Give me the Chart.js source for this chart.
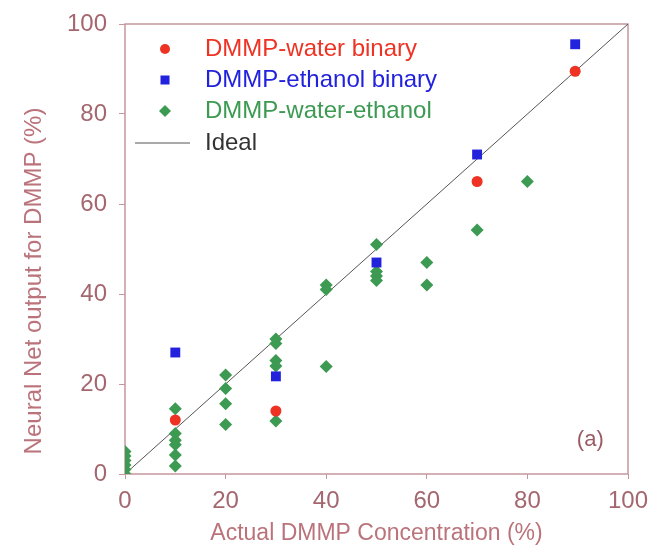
<!DOCTYPE html>
<html>
<head>
<meta charset="utf-8">
<script src="https://cdn.jsdelivr.net/npm/chart.js@4"></script>
<style>
  html, body { margin: 0; padding: 0; background: #fff; }
  #wrap { width: 651px; height: 547px; }
</style>
</head>
<body>
<div id="wrap"><canvas id="chart" width="651" height="547"></canvas></div>
<script>
// values
const waterX = [10, 30, 70, 89.5];
const waterY = [12, 14, 65, 89.5];

const ethanolX = [10, 30, 50, 70, 89.5];
const ethanolY = [27, 21.7, 47, 71, 95.5];

const mixX = [0, 0, 0, 0, 0, 0,
  10, 10, 10, 10, 10, 10,
  20, 20, 20, 20,
  30, 30, 30, 30, 30,
  40, 40, 40,
  50, 50, 50, 50,
  60, 60,
  70, 80];
const mixY = [0, 1, 2, 3, 4, 5,
  14.5, 9, 7.5, 6.5, 4.2, 1.8,
  22, 19, 15.6, 11,
  30, 29, 25.2, 24, 11.8,
  42, 41, 23.9,
  51, 45, 44, 43,
  47, 42,
  54.2, 65];

const idealX = [0, 100];
const idealY = [0, 100];

const xTicks = [0, 20, 40, 60, 80, 100];
const yTicks = [0, 20, 40, 60, 80, 100];

const legendNames = ["DMMP-water binary", "DMMP-ethanol binary", "DMMP-water-ethanol", "Ideal"];

const RED = "#ee3324";
const BLUE = "#2222dd";
const GREEN = "#3d9a52";
const FRAME = "#c4979d";
const TICKTXT = "#a4676f";
const TITLETXT = "#bb737b";
const FONT = "'Liberation Sans', Arial, sans-serif";

const toPoints = (xs, ys) => xs.map((x, i) => ({ x: x, y: ys[i] }));

// frame, y title, legend and "(a)"
const extras = {
  id: "extras",
  beforeDatasetsDraw(chart) {
    const { ctx, chartArea: a } = chart;
    ctx.save();
    ctx.strokeStyle = FRAME;
    ctx.lineWidth = 1.5;
    ctx.strokeRect(a.left, a.top, a.right - a.left, a.bottom - a.top);
    ctx.restore();
  },
  afterDraw(chart) {
    const { ctx } = chart;
    ctx.save();
    // y title
    ctx.translate(34, 281);
    ctx.rotate(-Math.PI / 2);
    ctx.fillStyle = TITLETXT;
    ctx.font = "24px " + FONT;
    ctx.textAlign = "center";
    ctx.textBaseline = "middle";
    ctx.fillText("Neural Net output for DMMP (%)", 0, 0);
    ctx.restore();

    // legend
    ctx.save();
    ctx.font = "24px " + FONT;
    ctx.textBaseline = "middle";
    const rows = [49, 80, 111, 143];
    const colors = [RED, BLUE, GREEN, "#333"];
    const mx = 165;
    ctx.fillStyle = RED;
    ctx.beginPath(); ctx.arc(mx, rows[0], 5, 0, Math.PI * 2); ctx.fill();
    ctx.fillStyle = BLUE;
    ctx.fillRect(mx - 4.5, rows[1] - 4.5, 9, 9);
    ctx.fillStyle = GREEN;
    ctx.beginPath();
    ctx.moveTo(mx, rows[2] - 6); ctx.lineTo(mx + 6, rows[2]);
    ctx.lineTo(mx, rows[2] + 6); ctx.lineTo(mx - 6, rows[2]);
    ctx.closePath(); ctx.fill();
    ctx.strokeStyle = "#555";
    ctx.lineWidth = 1;
    ctx.beginPath(); ctx.moveTo(135, rows[3]); ctx.lineTo(190, rows[3]); ctx.stroke();
    legendNames.forEach((name, i) => {
      ctx.fillStyle = colors[i];
      ctx.fillText(name, 205, rows[i]);
    });

    // panel label
    const xs = chart.scales.x, ys = chart.scales.y;
    ctx.fillStyle = "#9a5a62";
    ctx.font = "22px " + FONT;
    ctx.textAlign = "center";
    ctx.fillText("(a)", xs.getPixelForValue(92.5), ys.getPixelForValue(7.5));
    ctx.restore();
  }
};

new Chart(document.getElementById("chart"), {
  type: "scatter",
  data: {
    datasets: [
      {
        label: legendNames[0],
        data: toPoints(waterX, waterY),
        pointStyle: "circle",
        pointRadius: 5.5,
        backgroundColor: RED,
        borderWidth: 0,
        order: 1,
      },
      {
        label: legendNames[1],
        data: toPoints(ethanolX, ethanolY),
        pointStyle: "rect",
        pointRadius: 7,
        backgroundColor: BLUE,
        borderWidth: 0,
        order: 2,
      },
      {
        label: legendNames[2],
        data: toPoints(mixX, mixY),
        pointStyle: "rectRot",
        pointRadius: 6.5,
        backgroundColor: GREEN,
        borderWidth: 0,
        order: 3,
      },
      {
        type: "line",
        label: legendNames[3],
        data: toPoints(idealX, idealY),
        borderColor: "#555",
        borderWidth: 1,
        pointRadius: 0,
        fill: false,
        order: 4,
      },
    ],
  },
  options: {
    responsive: false,
    animation: false,
    devicePixelRatio: 1,
    layout: { padding: { top: 24, right: 23, left: 0, bottom: 0 } },
    plugins: {
      legend: { display: false },
      tooltip: { enabled: false },
    },
    scales: {
      x: {
        type: "linear",
        min: 0,
        max: 100,
        afterBuildTicks: (s) => { s.ticks = xTicks.map((v) => ({ value: v })); },
        afterFit: (s) => {
          s.height = 73;
          // keep the plot edge fixed, labels may overhang
          s.paddingLeft = 0;
          s.paddingRight = 0;
        },
        ticks: {
          color: TICKTXT,
          font: { family: FONT, size: 24 },
          padding: 8,
          maxRotation: 0,
        },
        grid: { drawOnChartArea: false, drawTicks: true, tickLength: 5, color: FRAME },
        border: { display: false },
        title: {
          display: true,
          text: "Actual DMMP Concentration (%)",
          color: TITLETXT,
          font: { family: FONT, size: 23 },
          padding: { top: 0, bottom: 0 },
        },
      },
      y: {
        type: "linear",
        min: 0,
        max: 100,
        afterBuildTicks: (s) => { s.ticks = yTicks.map((v) => ({ value: v })); },
        afterFit: (s) => {
          s.width = 125;
          s.paddingTop = 0;
          s.paddingBottom = 0;
        },
        ticks: {
          color: TICKTXT,
          font: { family: FONT, size: 24 },
          padding: 12,
        },
        grid: { drawOnChartArea: false, drawTicks: true, tickLength: 6, color: FRAME },
        border: { display: false },
      },
    },
  },
  plugins: [extras],
});
</script>
</body>
</html>
